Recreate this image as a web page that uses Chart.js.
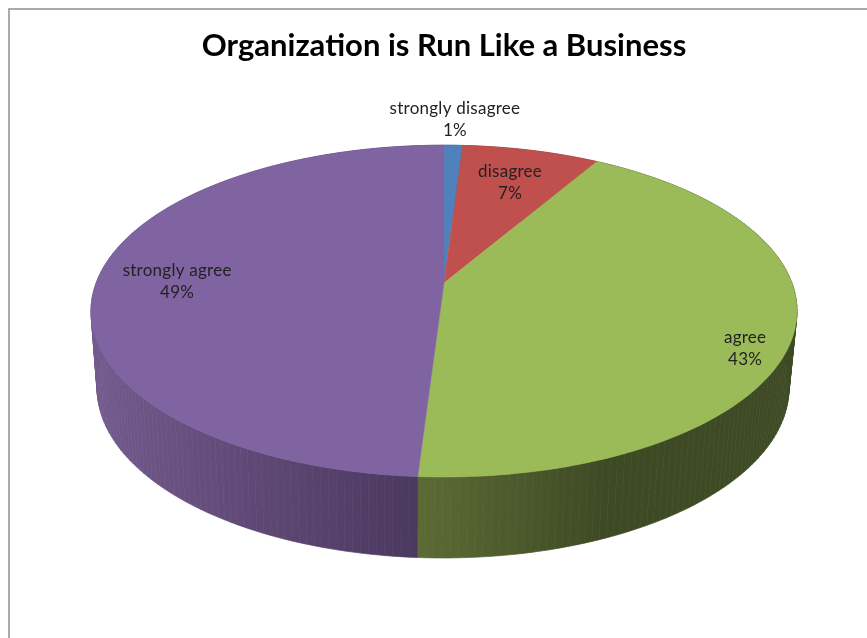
<!DOCTYPE html>
<html>
<head>
<meta charset="utf-8">
<title>Organization is Run Like a Business</title>
<script src="https://cdn.jsdelivr.net/npm/chart.js@4"></script>
<style>
  body { margin: 0; background: #fff; }
  canvas { display: block; }
</style>
</head>
<body>
<canvas id="pie" width="867" height="638"></canvas>
<script>
const categories = ['strongly disagree', 'disagree', 'agree', 'strongly agree'];
const shares = [1.0, 7.4, 42.6, 49.0];
const topColors = ['#4f81bd', '#c0504d', '#9bbb59', '#8064a2'];

// side wall shading, left to right
const wallStops = [
  ['#35567e', '#35567e'],
  ['#803533', '#803533'],
  ['#5c6b35', '#3e4a24'],
  ['#735b8e', '#5f4875', '#4a3960']
];

// label centres, as fractions of the ellipse radii from its centre
const labelSpots = [[0.031, -1.157], [0.187, -0.777], [0.853, 0.223], [-0.756, -0.181]];

const tilt = -0.169;      // perspective: how far the apex sits above the ellipse centre
const wallDrop = 77;      // bottom ellipse offset
const wallShiftX = -1;
const wallScaleX = 0.98;
const wallScaleY = 1.024;

let box = { rx: 353, ry: 166 };

// canvas angle on the flat disc -> point on the tilted ellipse
function project(a, cx, cy, rx, ry) {
  const X = Math.cos(a), Y = Math.sin(a);
  const d = 1 + tilt * Y;
  return {
    x: cx + rx * X * Math.sqrt(1 - tilt * tilt) / d,
    y: cy + ry * (Y + tilt) / d
  };
}

function traceArc(ctx, from, to, cx, cy, rx, ry) {
  const steps = Math.max(2, Math.ceil(Math.abs(to - from) / 0.02));
  for (let i = 0; i <= steps; i++) {
    const p = project(from + (to - from) * i / steps, cx, cy, rx, ry);
    ctx.lineTo(p.x, p.y);
  }
}

// slices are still the library's arc elements, only their outline is tilted
Chart.ArcElement.prototype.draw = function (ctx) {
  ctx.save();
  ctx.beginPath();
  ctx.moveTo(this.x, this.y + box.ry * tilt);
  traceArc(ctx, this.startAngle, this.endAngle, this.x, this.y, box.rx, box.ry);
  ctx.closePath();
  ctx.fillStyle = this.options.backgroundColor;
  ctx.strokeStyle = this.options.backgroundColor;
  ctx.lineWidth = 0.5;
  ctx.fill();
  ctx.stroke();
  ctx.restore();
};

const pie3d = {
  id: 'pie3d',
  beforeDraw(chart) {
    const ctx = chart.ctx;
    ctx.save();
    ctx.strokeStyle = '#8e8e8e';
    ctx.lineWidth = 1.5;
    ctx.beginPath();
    ctx.moveTo(9, chart.height);
    ctx.lineTo(9, 9);
    ctx.lineTo(chart.width, 9);
    ctx.stroke();
    ctx.restore();
  },
  beforeDatasetsDraw(chart) {
    const ctx = chart.ctx;
    const area = chart.chartArea;
    box = { rx: area.width / 2, ry: area.height / 2 };
    const arcs = chart.getDatasetMeta(0).data;
    arcs.forEach((arc, i) => {
      const grad = ctx.createLinearGradient(
        i === 2 ? arc.x - 26 : arc.x - box.rx,
        0,
        i === 2 ? arc.x + box.rx * 0.45 : arc.x - 26,
        0
      );
      wallStops[i].forEach((c, k) => grad.addColorStop(k / (wallStops[i].length - 1), c));
      ctx.save();
      ctx.fillStyle = grad;
      ctx.strokeStyle = grad;
      ctx.lineWidth = 0.7;
      // one quad per step, so the wall also closes the gap at the sides
      const steps = Math.ceil((arc.endAngle - arc.startAngle) / 0.02);
      for (let s = 0; s < steps; s++) {
        const a0 = arc.startAngle + (arc.endAngle - arc.startAngle) * s / steps;
        const a1 = arc.startAngle + (arc.endAngle - arc.startAngle) * (s + 1) / steps;
        const t0 = project(a0, arc.x, arc.y, box.rx, box.ry);
        const t1 = project(a1, arc.x, arc.y, box.rx, box.ry);
        const b0 = project(a0, arc.x + wallShiftX, arc.y + wallDrop, box.rx * wallScaleX, box.ry * wallScaleY);
        const b1 = project(a1, arc.x + wallShiftX, arc.y + wallDrop, box.rx * wallScaleX, box.ry * wallScaleY);
        ctx.beginPath();
        ctx.moveTo(t0.x, t0.y);
        ctx.lineTo(t1.x, t1.y);
        ctx.lineTo(b1.x, b1.y);
        ctx.lineTo(b0.x, b0.y);
        ctx.closePath();
        ctx.fill();
        ctx.stroke();
      }
      ctx.restore();
    });
  },
  afterDatasetsDraw(chart) {
    const ctx = chart.ctx;
    const arc0 = chart.getDatasetMeta(0).data[0];
    const total = shares.reduce((a, b) => a + b, 0);
    ctx.save();
    ctx.font = '17px Lato';
    ctx.letterSpacing = '0.25px';
    ctx.fillStyle = '#222';
    ctx.textAlign = 'center';
    ctx.textBaseline = 'middle';
    categories.forEach((name, i) => {
      const lx = arc0.x + labelSpots[i][0] * box.rx;
      const ly = arc0.y + labelSpots[i][1] * box.ry;
      ctx.fillText(name, lx, ly - 11);
      ctx.fillText(Math.round(shares[i] / total * 100) + '%', lx, ly + 11);
    });
    ctx.restore();
  }
};

const pieCtx = document.getElementById('pie').getContext('2d');
pieCtx.letterSpacing = '0.05px'; // also stops the "ti" ligature in the title

new Chart(pieCtx, {
  type: 'pie',
  data: {
    labels: categories,
    datasets: [{ data: shares, backgroundColor: topColors, borderWidth: 0 }]
  },
  options: {
    responsive: false,
    animation: false,
    layout: { padding: { left: 91, right: 70, top: 27, bottom: 161 } },
    plugins: {
      legend: { display: false },
      tooltip: { enabled: false },
      title: {
        display: true,
        text: 'Organization is Run Like a Business',
        color: '#000',
        font: { family: 'Lato', size: 31, weight: 'bold', lineHeight: 1.2 },
        padding: { top: 0, bottom: 81 }
      }
    }
  },
  plugins: [pie3d]
});
</script>
</body>
</html>
